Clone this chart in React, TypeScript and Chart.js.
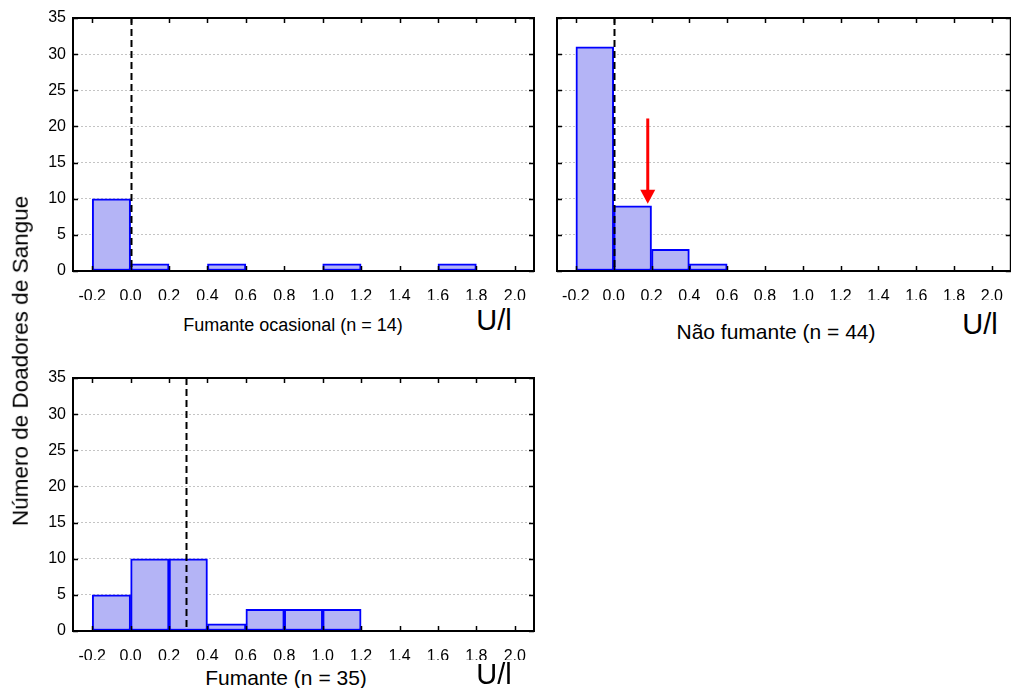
import React, { useEffect, useRef } from "react";
import { Chart, registerables } from "chart.js";

Chart.register(...registerables);

// ---------- data ----------
const BIN_CENTERS = [-0.1, 0.1, 0.3, 0.5, 0.7, 0.9, 1.1, 1.3, 1.5, 1.7, 1.9];
const OCASIONAL_COUNTS = [10, 1, 0, 1, 0, 0, 1, 0, 0, 1, 0];
const NAO_FUMANTE_COUNTS = [31, 9, 3, 1, 0, 0, 0, 0, 0, 0, 0];
const FUMANTE_COUNTS = [5, 10, 10, 1, 3, 3, 3, 0, 0, 0, 0];

const X_TICKS = [-0.2, 0, 0.2, 0.4, 0.6, 0.8, 1.0, 1.2, 1.4, 1.6, 1.8, 2.0];
const Y_TICKS = [0, 5, 10, 15, 20, 25, 30, 35];
const X_MIN = -0.3;
const X_MAX = 2.1;
const Y_MIN = 0;
const Y_MAX = 35;

const REF_OCASIONAL = 0.0;
const REF_NAO_FUMANTE = 0.0;
const REF_FUMANTE = 0.29;

const ARROW_X = 0.18;
const ARROW_FROM = 21.1;
const ARROW_TO = 9.3;

const TITLE_OCASIONAL = "Fumante ocasional (n = 14)";
const TITLE_NAO_FUMANTE = "Não fumante (n = 44)";
const TITLE_FUMANTE = "Fumante (n = 35)";
const UNIT = "U/l";
const Y_TITLE = "Número de Doadores de Sangue";

const FONT = "'Liberation Sans', Arial, Helvetica, sans-serif";

// ---------- plugin ----------
const framePlugin = {
  id: "frame",
  afterDatasetsDraw(chart: any, _args: any, opts: any) {
    const { ctx, chartArea: a, scales } = chart;
    const x = scales.x;
    const y = scales.y;
    ctx.save();
    if (opts.refX !== undefined && opts.refX !== null) {
      const px = Math.round(x.getPixelForValue(opts.refX)) + 0.5;
      ctx.strokeStyle = "#000";
      ctx.lineWidth = 2;
      ctx.setLineDash([7, 4]);
      ctx.beginPath();
      ctx.moveTo(px, a.top);
      ctx.lineTo(px, a.bottom);
      ctx.stroke();
      ctx.setLineDash([]);
    }
    if (opts.arrow) {
      const px = x.getPixelForValue(opts.arrow.x);
      const y0 = y.getPixelForValue(opts.arrow.from);
      const tip = y.getPixelForValue(opts.arrow.to);
      const headTop = tip - 14;
      ctx.strokeStyle = "#ff0000";
      ctx.fillStyle = "#ff0000";
      ctx.lineWidth = 3;
      ctx.beginPath();
      ctx.moveTo(px, y0);
      ctx.lineTo(px, headTop + 1);
      ctx.stroke();
      ctx.beginPath();
      ctx.moveTo(px - 7.5, headTop);
      ctx.lineTo(px + 7.5, headTop);
      ctx.lineTo(px, tip);
      ctx.closePath();
      ctx.fill();
    }
    ctx.restore();
  },
  afterDraw(chart: any) {
    const { ctx, chartArea: a, scales } = chart;
    const x = scales.x;
    const y = scales.y;
    ctx.save();
    ctx.strokeStyle = "#000";
    ctx.lineWidth = 1.5;
    const tl = 5;
    ctx.beginPath();
    X_TICKS.forEach((v) => {
      const px = Math.round(x.getPixelForValue(v)) + 0.5;
      ctx.moveTo(px, a.bottom);
      ctx.lineTo(px, a.bottom - tl);
      ctx.moveTo(px, a.top);
      ctx.lineTo(px, a.top + tl);
    });
    Y_TICKS.forEach((v) => {
      const py = Math.round(y.getPixelForValue(v)) + 0.5;
      ctx.moveTo(a.left, py);
      ctx.lineTo(a.left + tl, py);
      ctx.moveTo(a.right, py);
      ctx.lineTo(a.right - tl, py);
    });
    ctx.stroke();
    ctx.lineWidth = 2;
    ctx.strokeRect(a.left, a.top, a.right - a.left, a.bottom - a.top);
    ctx.restore();
  },
};

type PanelProps = {
  counts: number[];
  refX: number;
  arrow?: { x: number; from: number; to: number };
  showYLabels: boolean;
  left: number;
  top: number;
  width: number;
  height: number;
  axisLeft: number;
  padTop: number;
  padRight: number;
  axisBottom: number;
};

function Panel(p: PanelProps) {
  const ref = useRef<HTMLCanvasElement>(null);
  useEffect(() => {
    const canvas = ref.current!;
    const chart = new Chart(canvas, {
      type: "bar",
      data: {
        datasets: [
          {
            data: BIN_CENTERS.map((x, i) => ({ x, y: p.counts[i] })),
            backgroundColor: "#b4b4f6",
            borderColor: "#0000ff",
            borderWidth: 2,
            borderSkipped: false,
            barPercentage: 1,
            categoryPercentage: 1,
          } as any,
        ],
      },
      options: {
        responsive: false,
        animation: false,
        devicePixelRatio: 1,
        layout: { padding: { top: p.padTop, right: p.padRight, left: 0, bottom: 0 } },
        plugins: {
          legend: { display: false },
          tooltip: { enabled: false },
          frame: { refX: p.refX, arrow: p.arrow },
        } as any,
        scales: {
          x: {
            type: "linear",
            min: X_MIN,
            max: X_MAX,
            offset: false,
            grid: { display: false },
            border: { display: false },
            afterBuildTicks: (s: any) => {
              s.ticks = X_TICKS.map((v) => ({ value: v }));
            },
            afterFit: (s: any) => {
              s.height = p.axisBottom;
            },
            ticks: {
              autoSkip: false,
              maxRotation: 0,
              color: "#000",
              padding: 8,
              font: { family: FONT, size: 16 },
              callback: (v: any) => Number(v).toFixed(1).replace(".", ","),
            },
          },
          y: {
            type: "linear",
            min: Y_MIN,
            max: Y_MAX,
            afterBuildTicks: (s: any) => {
              s.ticks = Y_TICKS.map((v) => ({ value: v }));
            },
            afterFit: (s: any) => {
              s.width = p.axisLeft;
            },
            grid: { color: "#c4c4c4", lineWidth: 1, drawTicks: false },
            border: { display: false, dash: [2, 2] },
            ticks: {
              display: p.showYLabels,
              color: "#000",
              padding: 7,
              font: { family: FONT, size: 16 },
            },
          },
        } as any,
      },
      plugins: [framePlugin],
    } as any);
    return () => chart.destroy();
  }, []);
  return (
    <canvas
      ref={ref}
      width={p.width}
      height={p.height}
      style={{ position: "absolute", left: p.left, top: p.top, width: p.width, height: p.height }}
    />
  );
}

function Label(props: { text: string; cx: number; cy: number; size: number; rotate?: boolean }) {
  return (
    <div
      style={{
        position: "absolute",
        left: props.cx,
        top: props.cy,
        transform: `translate(-50%, -50%)${props.rotate ? " rotate(-90deg)" : ""}`,
        fontFamily: FONT,
        fontSize: props.size,
        lineHeight: 1,
        whiteSpace: "nowrap",
        color: "#000",
      }}
    >
      {props.text}
    </div>
  );
}

export default function App() {
  return (
    <div
      style={{
        position: "absolute",
        left: 0,
        top: 0,
        width: 1011,
        height: 688,
        overflow: "hidden",
        background: "#fff",
      }}
    >
      <Panel
        counts={OCASIONAL_COUNTS}
        refX={REF_OCASIONAL}
        showYLabels={true}
        left={0}
        top={0}
        width={545}
        height={300}
        axisLeft={73}
        padTop={18}
        padRight={11}
        axisBottom={29}
      />
      <Panel
        counts={NAO_FUMANTE_COUNTS}
        refX={REF_NAO_FUMANTE}
        arrow={{ x: ARROW_X, from: ARROW_FROM, to: ARROW_TO }}
        showYLabels={false}
        left={545}
        top={0}
        width={466}
        height={300}
        axisLeft={12}
        padTop={18}
        padRight={-6}
        axisBottom={29}
      />
      <Panel
        counts={FUMANTE_COUNTS}
        refX={REF_FUMANTE}
        showYLabels={true}
        left={0}
        top={360}
        width={545}
        height={300}
        axisLeft={73}
        padTop={18}
        padRight={11}
        axisBottom={29}
      />
      <Label text={TITLE_OCASIONAL} cx={293} cy={325} size={18} />
      <Label text={UNIT} cx={494} cy={320} size={29} />
      <Label text={TITLE_NAO_FUMANTE} cx={776} cy={331} size={21} />
      <Label text={UNIT} cx={980} cy={324} size={29} />
      <Label text={TITLE_FUMANTE} cx={286} cy={677} size={21} />
      <Label text={UNIT} cx={494} cy={674} size={29} />
      <Label text={Y_TITLE} cx={21} cy={361} size={22.5} rotate={true} />
    </div>
  );
}
